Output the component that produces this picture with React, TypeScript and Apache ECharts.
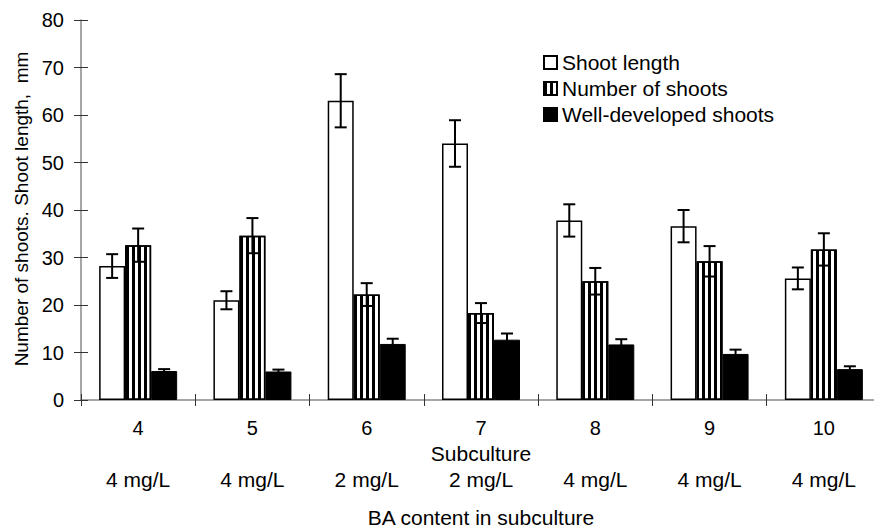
import React, { useEffect, useRef } from "react";
import * as echarts from "echarts";

const subcultures = ["4", "5", "6", "7", "8", "9", "10"];
const baContent = ["4 mg/L", "4 mg/L", "2 mg/L", "2 mg/L", "4 mg/L", "4 mg/L", "4 mg/L"];
const shootLength = [28.2, 21.0, 63.0, 54.0, 37.8, 36.6, 25.6];
const shootLengthErr = [2.5, 1.9, 5.6, 4.9, 3.4, 3.4, 2.3];
const numberOfShoots = [32.6, 34.6, 22.2, 18.3, 25.0, 29.2, 31.7];
const numberOfShootsErr = [3.5, 3.7, 2.4, 2.1, 2.8, 3.2, 3.4];
const wellDeveloped = [6.1, 6.0, 11.8, 12.7, 11.7, 9.7, 6.5];
const wellDevelopedErr = [0.4, 0.4, 1.1, 1.3, 1.1, 0.9, 0.6];
const yTicks = [0, 10, 20, 30, 40, 50, 60, 70, 80];

const FONT = "'Liberation Sans', Arial, sans-serif";
const BAR_W = 26;

function errSeries(name: string, vals: number[], errs: number[], offset: number) {
  return {
    name,
    type: "custom",
    z: 5,
    encode: { x: 0, y: 1 },
    data: vals.map((v, i) => [i, v, errs[i]]),
    renderItem: (params: any, api: any) => {
      const x = api.value(0);
      const v = api.value(1);
      const e = api.value(2);
      const c = api.coord([x, v]);
      const t = api.coord([x, v + e]);
      const b = api.coord([x, v - e]);
      const cx = c[0] + offset;
      const st = { stroke: "#000", lineWidth: 2 };
      return {
        type: "group",
        children: [
          { type: "line", shape: { x1: cx, y1: t[1], x2: cx, y2: b[1] }, style: st },
          { type: "line", shape: { x1: cx - 6, y1: t[1], x2: cx + 6, y2: t[1] }, style: st },
          { type: "line", shape: { x1: cx - 6, y1: b[1], x2: cx + 6, y2: b[1] }, style: st },
        ],
      };
    },
  };
}

export default function App() {
  const ref = useRef<HTMLDivElement>(null);
  useEffect(() => {
    if (!ref.current) return;
    const chart = echarts.init(ref.current, undefined, { renderer: "svg" });
    const labelStyle = { fontFamily: FONT, fontSize: 20, color: "#000" };
    chart.setOption({
      animation: false,
      backgroundColor: "#fff",
      grid: {
        left: 81,
        top: 20,
        width: 800,
        height: 380,
        containLabel: false,
        outerBoundsMode: "none",
      },
      legend: {
        orient: "vertical",
        left: 538,
        top: 47,
        icon: "rect",
        itemWidth: 13,
        itemHeight: 13,
        itemGap: 5,
        textStyle: { ...labelStyle, fontSize: 21 },
        data: ["Shoot length", "Number of shoots", "Well-developed shoots"],
      },
      xAxis: [
        {
          type: "category",
          data: subcultures,
          position: "bottom",
          axisLine: { lineStyle: { color: "#888", width: 1.5 } },
          axisTick: { show: true, length: 6, lineStyle: { color: "#333" } },
          axisLabel: { ...labelStyle, margin: 18 },
          name: "Subculture",
          nameLocation: "middle",
          nameGap: 36,
          nameTextStyle: { ...labelStyle, fontSize: 21 },
        },
        {
          type: "category",
          data: subcultures,
          position: "bottom",
          axisLine: { show: false },
          axisTick: { show: true, inside: true, length: 6, lineStyle: { color: "#333" } },
          axisLabel: {
            ...labelStyle,
            fontSize: 21,
            margin: 69,
            formatter: (_v: string, i: number) => baContent[i],
          },
          name: "BA content in subculture",
          nameLocation: "middle",
          nameGap: 107,
          nameTextStyle: { ...labelStyle, fontSize: 21 },
        },
      ],
      yAxis: [
        {
          type: "value",
          min: 0,
          max: 80,
          interval: 10,
          splitLine: { show: false },
          axisLine: { show: true, lineStyle: { color: "#888", width: 1.5 } },
          axisTick: { show: true, length: 7, lineStyle: { color: "#333" } },
          axisLabel: {
            ...labelStyle,
            margin: 17,
            formatter: (v: number) => (yTicks.includes(v) ? String(v) : ""),
          },
        },
        {
          type: "value",
          min: 0,
          max: 80,
          interval: 10,
          position: "left",
          splitLine: { show: false },
          axisLine: { show: false },
          axisTick: { show: true, inside: true, length: 7, lineStyle: { color: "#333" } },
          axisLabel: { show: false },
        },
      ],
      graphic: [
        {
          type: "text",
          x: 21,
          y: 209,
          rotation: Math.PI / 2,
          style: {
            text: "Number of shoots. Shoot length,  mm",
            fontFamily: FONT,
            fontSize: 19,
            fill: "#000",
            textAlign: "center",
            textVerticalAlign: "middle",
          },
        },
      ],
      series: [
        {
          name: "Shoot length",
          type: "bar",
          data: shootLength,
          barWidth: BAR_W,
          barGap: "0%",
          itemStyle: { color: "#fff", borderColor: "#000", borderWidth: 1.5 },
        },
        {
          name: "Number of shoots",
          type: "bar",
          data: numberOfShoots,
          barWidth: BAR_W,
          barGap: "0%",
          itemStyle: {
            color: "#fff",
            borderColor: "#000",
            borderWidth: 1.5,
            decal: {
              symbol: "rect",
              symbolSize: 1,
              color: "#000",
              dashArrayX: [3, 3],
              dashArrayY: [4, 0],
              rotation: 0,
            },
          },
        },
        {
          name: "Well-developed shoots",
          type: "bar",
          data: wellDeveloped,
          barWidth: BAR_W,
          barGap: "0%",
          itemStyle: { color: "#000", borderColor: "#000", borderWidth: 1 },
        },
        errSeries("errA", shootLength, shootLengthErr, -BAR_W),
        errSeries("errB", numberOfShoots, numberOfShootsErr, 0),
        errSeries("errC", wellDeveloped, wellDevelopedErr, BAR_W),
      ],
    });
    return () => chart.dispose();
  }, []);
  return (
    <div
      ref={ref}
      style={{ position: "absolute", left: 0, top: 0, width: 874, height: 528 }}
    />
  );
}
